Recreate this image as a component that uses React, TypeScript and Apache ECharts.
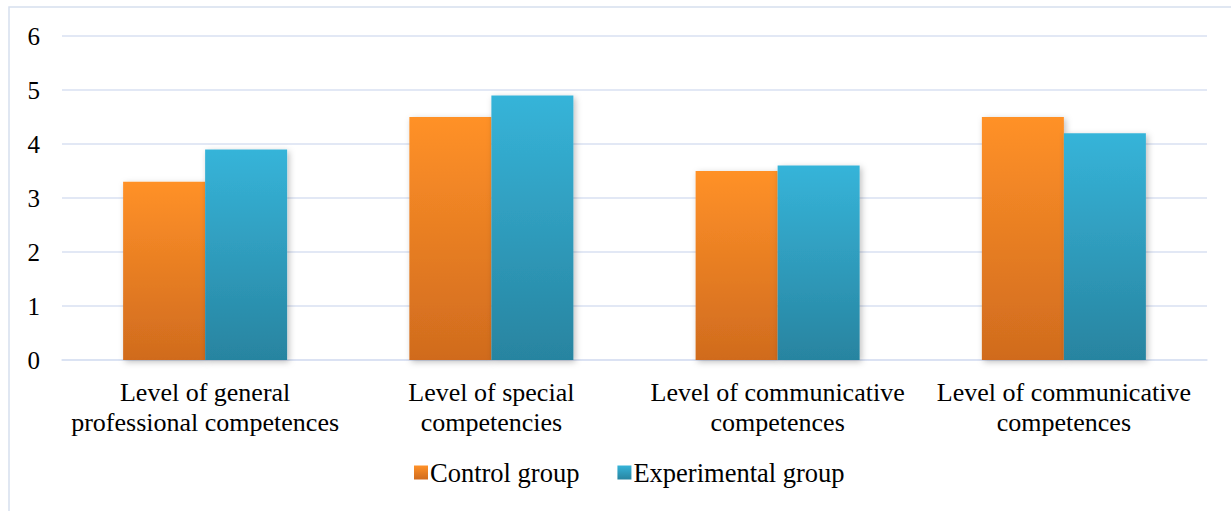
import React, { useEffect, useRef } from "react";
import * as echarts from "echarts";

const categories = [
  "Level of general\nprofessional competences",
  "Level of special\ncompetencies",
  "Level of communicative\ncompetences",
  "Level of communicative\ncompetences",
];
const controlGroup = [3.3, 4.5, 3.5, 4.5];
const experimentalGroup = [3.9, 4.9, 3.6, 4.2];
const seriesNames = ["Control group", "Experimental group"];

const FONT = "'Liberation Serif', 'Times New Roman', serif";

export default function App() {
  const ref = useRef<HTMLDivElement>(null);
  useEffect(() => {
    if (!ref.current) return;
    const chart = echarts.init(ref.current, undefined, { renderer: "svg" });
    const orange = new echarts.graphic.LinearGradient(0, 0, 0, 1, [
      { offset: 0, color: "#FF9128" },
      { offset: 1, color: "#D06B1E" },
    ]);
    const blue = new echarts.graphic.LinearGradient(0, 0, 0, 1, [
      { offset: 0, color: "#36B4D9" },
      { offset: 1, color: "#2884A0" },
    ]);
    chart.setOption({
      animation: false,
      backgroundColor: "#ffffff",
      textStyle: { fontFamily: FONT },
      graphic: [
        {
          type: "rect",
          shape: { x: 9, y: 7, width: 1400, height: 700 },
          style: { fill: "none", stroke: "#D6E0EE", lineWidth: 1.5 },
          silent: true,
        },
      ],
      grid: { left: 62, right: 24, top: 36, bottom: 151 },
      legend: {
        bottom: 20,
        left: 409,
        itemWidth: 14,
        itemHeight: 14,
        itemGap: 38,
        icon: "rect",
        textStyle: { fontFamily: FONT, fontSize: 26.5, color: "#000", padding: [0, 0, 0, -3] },
        data: seriesNames,
      },
      xAxis: {
        type: "category",
        data: categories,
        axisLine: { lineStyle: { color: "#D9E1F2", width: 1.5 } },
        axisTick: { show: false },
        axisLabel: {
          fontFamily: FONT,
          fontSize: 26,
          color: "#000",
          lineHeight: 30,
          margin: 17,
          interval: 0,
        },
      },
      yAxis: {
        type: "value",
        min: 0,
        max: 6,
        interval: 1,
        axisLine: { show: false },
        axisTick: { show: false },
        splitLine: { lineStyle: { color: "#D9E1F2", width: 1.5 } },
        axisLabel: { fontFamily: FONT, fontSize: 25, color: "#000", margin: 22 },
      },
      series: [
        {
          name: seriesNames[0],
          type: "bar",
          data: controlGroup,
          barGap: "0%",
          barCategoryGap: "42.7%",
          itemStyle: {
            color: orange,
            shadowBlur: 6,
            shadowColor: "rgba(0,0,0,0.25)",
            shadowOffsetX: 2,
            shadowOffsetY: 2,
          },
        },
        {
          name: seriesNames[1],
          type: "bar",
          data: experimentalGroup,
          itemStyle: {
            color: blue,
            shadowBlur: 6,
            shadowColor: "rgba(0,0,0,0.25)",
            shadowOffsetX: 2,
            shadowOffsetY: 2,
          },
        },
      ],
    });
    return () => chart.dispose();
  }, []);
  return (
    <div
      ref={ref}
      style={{ position: "fixed", left: 0, top: 0, width: 1231, height: 511 }}
    />
  );
}
